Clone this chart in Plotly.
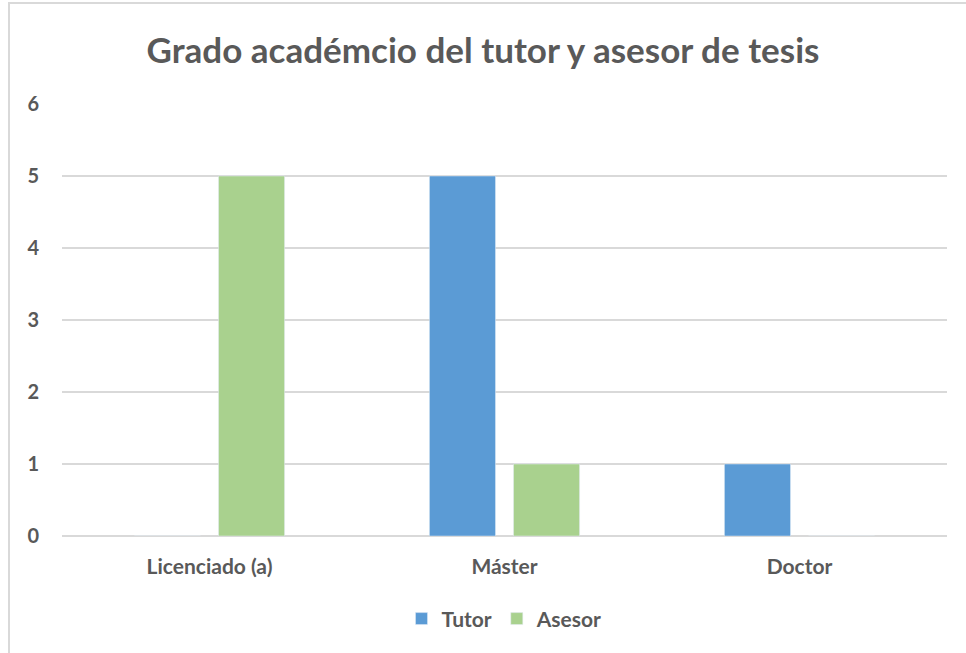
import plotly.graph_objects as go

categories = ["Licenciado (a)", "Máster", "Doctor"]
tutor = [0, 5, 1]
asesor = [5, 1, 0]
y_ticks = [0, 1, 2, 3, 4, 5, 6]

FONT = "Lato"
GRAY = "#595959"

fig = go.Figure()
fig.add_trace(go.Bar(name="Tutor", x=categories, y=tutor, marker_color="#5B9BD5"))
fig.add_trace(go.Bar(name="Asesor", x=categories, y=asesor, marker_color="#A9D18E"))

fig.update_layout(
    width=966, height=653,
    margin=dict(l=62, r=19, t=104, b=117),
    paper_bgcolor="white", plot_bgcolor="white",
    barmode="group", bargap=0.43, bargroupgap=0.214,
    title=dict(text="<b>Grado académcio del tutor y asesor de tesis</b>",
               x=0.5, xanchor="center", y=0.923, yanchor="middle",
               font=dict(family=FONT, size=35, color=GRAY)),
    font=dict(family=FONT, color=GRAY),
    xaxis=dict(showgrid=False, showline=False, ticks="", ticklabelstandoff=16,
               tickfont=dict(family=FONT, size=21, color=GRAY, weight="bold")),
    yaxis=dict(range=[0, 6], tickvals=y_ticks, showgrid=True, gridcolor="#D9D9D9",
               gridwidth=1.5, zeroline=True, zerolinecolor="#D9D9D9", zerolinewidth=1.5,
               showline=False, ticks="", ticklabelstandoff=22,
               tickfont=dict(family=FONT, size=20, color=GRAY, weight="bold")),
    legend=dict(orientation="h", x=0.5, xanchor="center", y=-0.192, yanchor="middle",
                font=dict(family=FONT, size=21, color=GRAY, weight="bold"),
                itemwidth=30, traceorder="normal"),
)

frame_js = (
    "document.body.style.margin='0';document.body.style.overflow='hidden';"
    "var fr=document.createElement('div');"
    "fr.style.cssText='position:absolute;left:8px;top:2px;width:1200px;height:900px;"
    "border-top:2px solid #D9D9D9;border-left:2px solid #D9D9D9;pointer-events:none;z-index:10;';"
    "document.body.appendChild(fr);"
)

fig.write_html("out.html", config={"displayModeBar": False}, post_script=frame_js)
